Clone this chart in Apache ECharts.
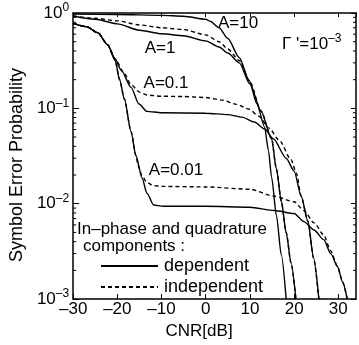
<!DOCTYPE html>
<html>
<head>
<meta charset="utf-8">
<script src="https://cdn.jsdelivr.net/npm/echarts@6/dist/echarts.min.js"></script>
<style>
  html, body { margin: 0; padding: 0; background: #fff; }
  #chart { width: 359px; height: 345px; }
</style>
</head>
<body>
<div id="chart"></div>
<script>
// [CNR dB, symbol error probability]
const a10Dep = [[-30, 0.975], [-20, 0.965], [-10, 0.945], [-5, 0.925], [0, 0.86], [1, 0.82], [3, 0.70],
  [5, 0.54], [7.6, 0.34], [9.8, 0.197], [11.6, 0.111], [13.3, 0.064], [14.2, 0.036], [14.9, 0.019],
  [16, 0.0075], [17.1, 0.0029], [18.2, 0.001]];

const a1Dep = [[-30, 0.93], [-25, 0.86], [-20, 0.77], [-15, 0.66], [-10, 0.605], [-5, 0.577], [0, 0.51],
  [3, 0.44], [5, 0.38], [7.6, 0.30], [10, 0.18], [12.5, 0.094], [14.9, 0.048], [16, 0.023],
  [17.1, 0.0106], [18.2, 0.005], [19.3, 0.0024], [20.4, 0.001]];
const a1Ind = [[-30, 0.93], [-25, 0.88], [-20, 0.826], [-15, 0.75], [-10, 0.70], [-5, 0.67], [0, 0.59],
  [3, 0.50], [5, 0.42], [7.6, 0.317], [10, 0.19], [12.5, 0.094], [14.9, 0.048], [16, 0.023],
  [17.1, 0.0106], [18.2, 0.005], [19.3, 0.0024], [20.4, 0.001]];

const a01Dep = [[-30, 0.78], [-27, 0.72], [-24.4, 0.62], [-22.2, 0.465], [-20.5, 0.33], [-19.1, 0.25],
  [-16.9, 0.166], [-15.1, 0.111], [-13.3, 0.093], [-10, 0.09], [0, 0.089], [5, 0.086], [8.2, 0.081],
  [11, 0.072], [13.3, 0.061], [15.3, 0.048], [18.2, 0.030], [20, 0.022], [21.6, 0.012], [23.1, 0.0066],
  [24.4, 0.0027], [25.6, 0.001]];
const a01Ind = [[-30, 0.78], [-27, 0.72], [-24.4, 0.62], [-22.2, 0.465], [-20.5, 0.33], [-18.5, 0.235],
  [-16.9, 0.178], [-15, 0.148], [-13.3, 0.138], [-10, 0.134], [-5, 0.133], [0, 0.13], [3.8, 0.122],
  [7, 0.11], [9.8, 0.098], [12, 0.083], [14.3, 0.062], [16.7, 0.046], [19.3, 0.029], [20.5, 0.021],
  [21.6, 0.012], [23.1, 0.0066], [24.4, 0.0027], [25.6, 0.001]];

const a001Dep = [[-30, 0.78], [-27, 0.72], [-24.4, 0.62], [-22.2, 0.465], [-20.5, 0.32], [-19.5, 0.2],
  [-18.4, 0.125], [-16.9, 0.057], [-15.8, 0.032], [-14.4, 0.0185], [-13.3, 0.0129], [-11.8, 0.0097],
  [-9.6, 0.0094], [0, 0.0094], [10, 0.0092], [15.5, 0.0085], [20, 0.0079], [22.2, 0.0065],
  [24.5, 0.0053], [26.7, 0.0042], [28.3, 0.003], [29.8, 0.0022], [31, 0.0015], [32, 0.001]];
const a001Ind = [[-30, 0.78], [-27, 0.72], [-24.4, 0.62], [-22.2, 0.465], [-20.5, 0.32], [-19.5, 0.2],
  [-18.4, 0.125], [-16.9, 0.057], [-15.8, 0.032], [-15.3, 0.025], [-14.4, 0.0195], [-13.3, 0.0167],
  [-11.8, 0.0155], [-10, 0.0152], [0, 0.015], [10, 0.0142], [15.5, 0.012], [20, 0.0105],
  [22.2, 0.0085], [24.5, 0.0063], [26.7, 0.0047], [28.3, 0.0032], [29.8, 0.0022], [31, 0.0015], [32, 0.001]];

const yMinorTicks = [0.002, 0.003, 0.004, 0.005, 0.006, 0.007, 0.008, 0.009,
  0.02, 0.03, 0.04, 0.05, 0.06, 0.07, 0.08, 0.09,
  0.2, 0.3, 0.4, 0.5, 0.6, 0.7, 0.8, 0.9];

const FONT = '"Liberation Sans", Arial, sans-serif';
const chart = echarts.init(document.getElementById('chart'));

function curve(data, dashed) {
  return {
    name: dashed ? 'independent' : 'dependent',
    type: 'line',
    data: data,
    symbol: 'none',
    smooth: 0.25,
    smoothMonotone: 'x',
    silent: true,
    z: dashed ? 3 : 2,
    itemStyle: { color: '#000' },
    lineStyle: { color: '#000', width: 1.4, type: dashed ? [4, 3] : 'solid' }
  };
}

const axisLine = { show: true, onZero: false, lineStyle: { color: '#000', width: 1.5 } };
const tickStyle = { color: '#000', width: 1 };
const txt = (text, x, y, align) => ({
  type: 'text', x: x, y: y, silent: true,
  style: { text: text, fontSize: 17, fontFamily: FONT, fill: '#000',
    textAlign: align || 'center', textVerticalAlign: 'middle' }
});

chart.setOption({
  animation: false,
  backgroundColor: '#fff',
  grid: { left: 68, right: 3, top: 13, bottom: 43 },
  xAxis: [
    {
      type: 'value', min: -30, max: 34, interval: 10,
      axisLine: axisLine,
      axisTick: { inside: true, length: 5, lineStyle: tickStyle },
      axisLabel: {
        color: '#000', fontSize: 17, fontFamily: FONT, margin: 2, showMaxLabel: false,
        formatter: v => (v % 10 ? '' : String(v).replace('-', '–'))
      },
      splitLine: { show: false },
      name: 'CNR[dB]', nameLocation: 'middle', nameGap: 21,
      nameTextStyle: { color: '#000', fontSize: 17, fontFamily: FONT, padding: [0, 31, 0, 0] }
    },
    {
      type: 'value', position: 'top', min: -30, max: 34, interval: 10,
      axisLine: axisLine,
      axisTick: { inside: true, length: 4, lineStyle: tickStyle },
      axisLabel: { show: false }, splitLine: { show: false }
    }
  ],
  yAxis: [
    {
      type: 'log', logBase: 10, min: 0.001, max: 1,
      axisLine: axisLine,
      axisTick: { inside: true, length: 6, lineStyle: tickStyle },
      axisLabel: {
        margin: 4,
        formatter: v => {
          const e = Math.round(Math.log10(v));
          return '{b|10}{s|' + String(e).replace('-', '–') + '}';
        },
        rich: {
          b: { color: '#000', fontSize: 17, fontFamily: FONT, lineHeight: 22 },
          s: { color: '#000', fontSize: 12, fontFamily: FONT, lineHeight: 12, verticalAlign: 'top' }
        }
      },
      splitLine: { show: false },
      name: 'Symbol Error Probability', nameLocation: 'middle', nameGap: 33,
      nameTextStyle: { color: '#000', fontSize: 18, fontFamily: FONT, padding: [0, 18, 0, 0] }
    },
    {
      type: 'log', logBase: 10, min: 0.001, max: 1, position: 'right',
      axisLine: axisLine,
      axisTick: { inside: true, length: 5, lineStyle: tickStyle },
      axisLabel: { show: false }, splitLine: { show: false }
    }
  ],
  legend: {
    data: ['dependent', 'independent'],
    orient: 'vertical', left: 100, top: 257, padding: 0,
    itemWidth: 57, itemHeight: 14, itemGap: 3,
    selectedMode: false,
    itemStyle: { color: 'rgba(0,0,0,0)', borderWidth: 0 },
    textStyle: { color: '#000', fontSize: 18, fontFamily: FONT, padding: [0, 0, 0, 1] }
  },
  graphic: [
    txt('A=10', 238, 23),
    txt('A=1', 160, 48),
    txt('A=0.1', 166, 83),
    txt('A=0.01', 176, 170),
    {
      type: 'text', x: 282, y: 44, silent: true,
      style: {
        text: '{b|Γ \'=10}{s|–3}', textAlign: 'left', textVerticalAlign: 'middle',
        rich: {
          b: { fill: '#000', fontSize: 17, fontFamily: FONT, lineHeight: 22 },
          s: { fill: '#000', fontSize: 12, fontFamily: FONT, lineHeight: 12, verticalAlign: 'top' }
        }
      }
    },
    txt('In–phase and quadrature', 77, 229, 'left'),
    txt('components :', 83, 246, 'left')
  ],
  series: [
    curve(a10Dep, false),
    curve(a1Dep, false), curve(a1Ind, true),
    curve(a01Dep, false), curve(a01Ind, true),
    curve(a001Dep, false), curve(a001Ind, true),
    {
      type: 'custom', silent: true, clip: false, z: 5,
      data: yMinorTicks.map(v => [-30, v]),
      renderItem: (params, api) => {
        const y = api.coord([api.value(0), api.value(1)])[1];
        const cs = params.coordSys;
        const st = { stroke: '#000', lineWidth: 1 };
        return {
          type: 'group',
          children: [
            { type: 'line', shape: { x1: cs.x, y1: y, x2: cs.x + 3, y2: y }, style: st },
            { type: 'line', shape: { x1: cs.x + cs.width - 3, y1: y, x2: cs.x + cs.width, y2: y }, style: st }
          ]
        };
      }
    }
  ]
});
window.addEventListener('resize', () => chart.resize());
</script>
</body>
</html>
